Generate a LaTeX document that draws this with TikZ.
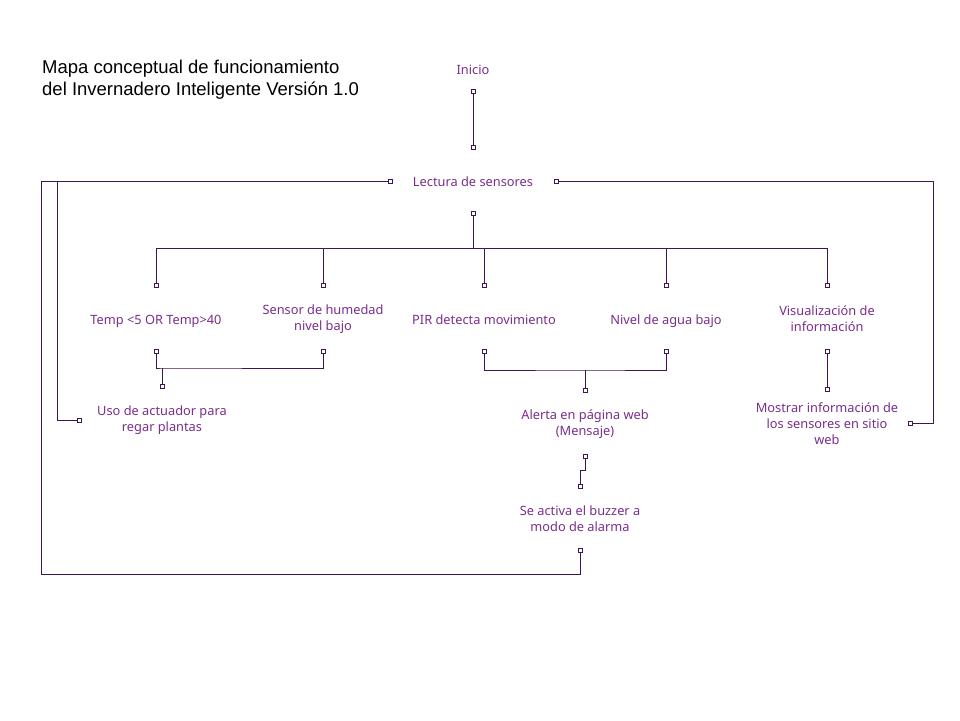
\documentclass[tikz,border=0pt]{standalone}
\usepackage{fontspec}
\setmainfont{Noto Sans}
\newfontfamily\titlefont{Liberation Sans}
\usetikzlibrary{calc}
\definecolor{wire}{HTML}{3F1750}
\definecolor{ink}{HTML}{7A2E8C}
\begin{document}
\begin{tikzpicture}[x=1pt,y=-1pt,
  lbl/.style={text=ink,font=\fontsize{12.8}{16}\selectfont,align=center,inner sep=0pt},
  port/.style={draw=wire,fill=white,line width=0.8pt,minimum size=4pt,inner sep=0pt,rectangle},
  link/.style={draw=wire,line width=1pt}]
\useasboundingbox[fill=white] (0,0) rectangle (960,720);

% title
\node[anchor=west,align=left,inner sep=0pt,font=\titlefont\fontsize{18.5}{22}\selectfont] (title) at (42,80)
  {Mapa conceptual de funcionamiento\\del Invernadero Inteligente Versión 1.0};

% concept labels
\node[lbl] (ini) at (473,70) {Inicio};
\node[lbl] (lec) at (473,182) {Lectura de sensores};
\node[lbl] (tmp) at (156,321) {Temp <5 OR Temp>40};
\node[lbl] (hum) at (323,319) {Sensor de humedad\\nivel bajo};
\node[lbl] (pir) at (484,320) {PIR detecta movimiento};
\node[lbl] (agu) at (666,321) {Nivel de agua bajo};
\node[lbl] (vis) at (827,319) {Visualización de\\información};
\node[lbl] (uso) at (162,420) {Uso de actuador para\\regar plantas};
\node[lbl] (ale) at (585,424) {Alerta en página web\\(Mensaje)};
\node[lbl] (buz) at (580,519) {Se activa el buzzer a\\modo de alarma};
\node[lbl] (mos) at (827,424) {Mostrar información de\\los sensores en sitio\\web};

% connection ports
\node[port] (ini-s) at (473,91) {};
\node[port] (lec-n) at (473.5,147) {};
\node[port] (lec-w) at (390,181) {};
\node[port] (lec-e) at (556,181) {};
\node[port] (lec-s) at (473,213) {};
\node[port] (tmp-n) at (156,285) {};
\node[port] (hum-n) at (323,285) {};
\node[port] (pir-n) at (484,285) {};
\node[port] (agu-n) at (666,285) {};
\node[port] (vis-n) at (827,285) {};
\node[port] (tmp-s) at (156,351) {};
\node[port] (hum-s) at (323,351) {};
\node[port] (pir-s) at (484,351) {};
\node[port] (agu-s) at (666,351) {};
\node[port] (vis-s) at (827,351) {};
\node[port] (uso-n) at (162,386) {};
\node[port] (uso-w) at (79,420) {};
\node[port] (ale-n) at (585,390) {};
\node[port] (ale-s) at (585,456) {};
\node[port] (buz-n) at (580,486) {};
\node[port] (buz-s) at (580,550) {};
\node[port] (mos-n) at (827,389) {};
\node[port] (mos-e) at (910,423) {};

% junctions and bends
\coordinate (jtop) at (473,248);
\coordinate (jleft) at (162,368);
\coordinate (jmid) at (585,370);
\coordinate (bendA) at (57,181);
\coordinate (loopL) at (41,574);
\coordinate (loopR) at (933,181);

% connectors
\draw[link] (ini-s) -- ++(0,27) -| (lec-n);
\draw[link] (lec-s) |- (jtop);
\draw[link] (jtop) -| (tmp-n);
\draw[link] (jtop) -| (hum-n);
\draw[link] (jtop) -- (pir-n |- jtop) -- (pir-n);
\draw[link] (jtop) -| (agu-n);
\draw[link] (jtop) -| (vis-n);
\draw[link] (tmp-s) |- (jleft) -| (hum-s);
\draw[link] (jleft) -- (uso-n);
\draw[link] (pir-s) |- (jmid) -| (agu-s);
\draw[link] (jmid) -- (ale-n);
\draw[link] (vis-s) -- (mos-n);
\draw[link] (ale-s) -- ++(0,14) -| (buz-n);
\draw[link] (lec-w) -- (bendA) |- (uso-w);
\draw[link] (buz-s) |- (loopL) |- (lec-w);
\draw[link] (lec-e) -- (loopR) |- (mos-e);
\end{tikzpicture}
\end{document}
